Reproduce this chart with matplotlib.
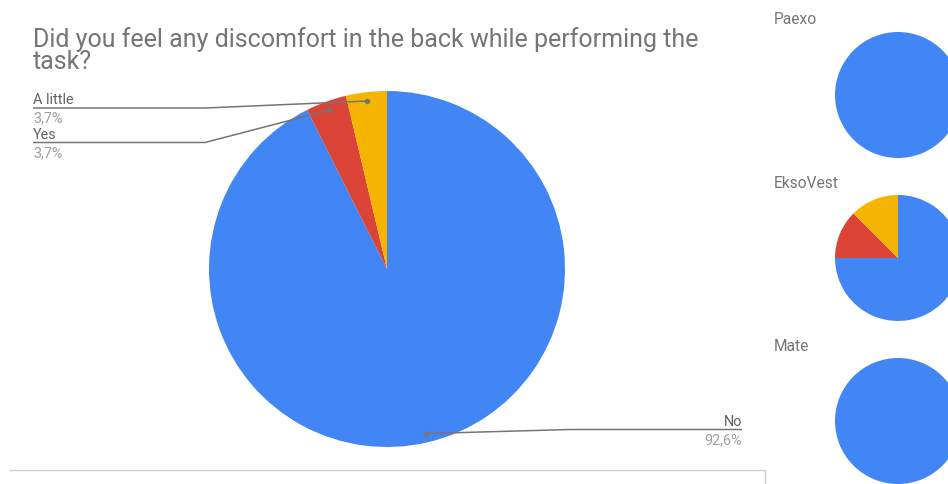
import numpy as np
import matplotlib
matplotlib.use("Agg")
import matplotlib.pyplot as plt

plt.rcParams['font.family'] = ['Roboto', 'DejaVu Sans']

# ---- data ----
title = "Did you feel any discomfort in the back while performing the\ntask?"
categories = ["No", "Yes", "A little"]
main_values = [25, 1, 1]
main_pct_labels = ["92,6%", "3,7%", "3,7%"]
small_titles = ["Paexo", "EksoVest", "Mate"]
paexo_values = [1, 0, 0]
eksovest_values = [6, 1, 1]
mate_values = [1, 0, 0]
small_values = [paexo_values, eksovest_values, mate_values]
colors = ["#4285F4", "#DB4437", "#F4B400"]

W, H = 948, 485
fig = plt.figure(figsize=(W / 100, H / 100), dpi=100)

def px_axes(x0, y0, w, h):
    return fig.add_axes([x0 / W, 1 - (y0 + h) / H, w / W, h / H])

# overlay for text/lines in pixel coords
ov = fig.add_axes([0, 0, 1, 1], zorder=5)
ov.set_xlim(0, W)
ov.set_ylim(H, 0)
ov.axis('off')
ov.patch.set_alpha(0)

# main pie
cx, cy, r = 387, 270, 178
ax = px_axes(cx - r, cy - r, 2 * r, 2 * r)
wedges, _ = ax.pie(main_values, colors=colors, startangle=90, counterclock=False,
                   wedgeprops=dict(linewidth=0))
ax.set_xlim(-1, 1)
ax.set_ylim(-1, 1)
ax.axis('off')

def to_ov(axx, pt):
    return ov.transData.inverted().transform(axx.transData.transform(pt))

tot = sum(main_values)
mids = []
start = 90.0
for v in main_values:
    ang = 360.0 * v / tot
    mids.append(start - ang / 2)
    start -= ang

dots = [to_ov(ax, (0.95 * np.cos(np.radians(m)), 0.95 * np.sin(np.radians(m)))) for m in mids]

line_c = "#757575"
label_c = "#616161"
pct_c = "#9E9E9E"

layouts = {
    "A little": dict(y=109, x0=33, xe=205, ha="left"),
    "Yes": dict(y=143.5, x0=33, xe=205, ha="left"),
    "No": dict(y=430.5, x0=742, xe=570, ha="right"),
}
for i, cat in enumerate(categories):
    L = layouts[cat]
    dx, dy = dots[i]
    ov.plot([L["x0"], L["xe"], dx], [L["y"], L["y"], dy], color=line_c, lw=1.1,
            solid_capstyle='butt')
    ov.plot([dx], [dy], 'o', color=line_c, ms=4, mec='none')
    ov.text(L["x0"], L["y"] - 4.5, cat, ha=L["ha"], va="baseline", fontsize=10.4, color=label_c)
    ov.text(L["x0"], L["y"] + 13.5, main_pct_labels[i], ha=L["ha"], va="baseline",
            fontsize=10.4, color=pct_c)

# title
ov.text(33, 47, title.split("\n")[0], ha="left", va="baseline", fontsize=18, color="#757575")
ov.text(33, 69, title.split("\n")[1], ha="left", va="baseline", fontsize=18, color="#757575")

# small pies
sr = 63
centers_y = [96, 259, 422]
title_y = [24.5, 188, 351]
for t, vals, scy, ty in zip(small_titles, small_values, centers_y, title_y):
    sax = px_axes(898 - sr, scy - sr, 2 * sr, 2 * sr)
    sax.pie(vals, colors=colors, startangle=90, counterclock=False,
            wedgeprops=dict(linewidth=0))
    sax.set_xlim(-1, 1)
    sax.set_ylim(-1, 1)
    sax.axis('off')
    ov.text(774, ty, t, ha="left", va="baseline", fontsize=11.2, color="#757575")

# bottom frame lines
ov.plot([10, 765, 765], [471, 471, 490], color="#CCCCCC", lw=1, clip_on=False)

fig.savefig("out.png", dpi=100)
